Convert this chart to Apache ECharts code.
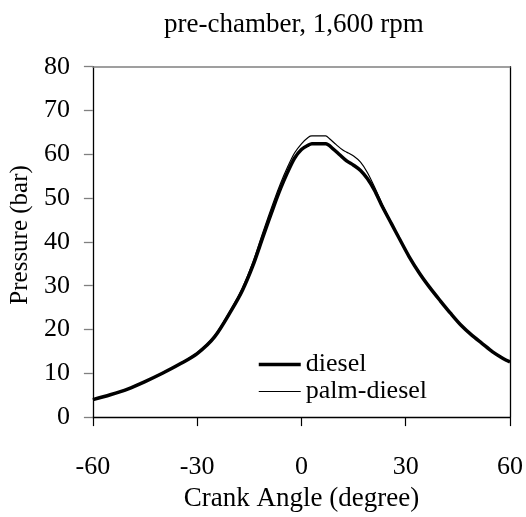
<!DOCTYPE html>
<html>
<head>
<meta charset="utf-8">
<script src="https://cdn.jsdelivr.net/npm/echarts@6/dist/echarts.min.js"></script>
<style>
html,body{margin:0;padding:0;background:#fff;}
#chart{width:526px;height:517px;}
</style>
</head>
<body>
<div id="chart"></div>
<script>
var titleText = 'pre-chamber, 1,600 rpm';
var xTicks = [-60, -30, 0, 30, 60];
var yTicks = [0, 10, 20, 30, 40, 50, 60, 70, 80];

var dieselAngle = [-60,-55,-50,-45,-40,-35,-30,-25,-20,-17,-14,-11,-8,-6,-4,-2,0,2,3,5,7,9,11,13,15,17,19,21,23,26,28,31,34,37,40,43,46,49,52,55,58,60];
var dieselP =     [4.0,5.1,6.4,8.1,10.0,12.1,14.5,18.3,24.6,28.9,34.5,41.3,48.0,52.2,55.9,59.1,61.1,62.1,62.4,62.4,62.4,61.3,59.9,58.5,57.5,56.3,54.4,51.8,48.5,44.0,41.0,36.6,32.8,29.5,26.5,23.6,20.9,18.7,16.8,14.9,13.4,12.6];

var palmAngle = [-60,-55,-50,-45,-40,-35,-30,-25,-20,-17,-14,-11,-8,-6,-4,-2,0,2,3,5,7,8,10,12,13,15,17,19,21,23,26,28,31,34,37,40,43,46,49,52,55,58,60];
var palmP =     [4.0,5.1,6.4,8.1,10.1,12.2,14.7,18.6,25.0,29.5,35.3,42.4,49.2,53.4,57.1,60.3,62.4,63.9,64.2,64.2,64.2,63.6,62.2,60.9,60.5,59.6,58.2,55.8,52.6,49.0,44.2,41.1,36.7,32.8,29.5,26.5,23.6,20.9,18.7,16.8,14.9,13.4,12.6];

function pairs(xs, ys) { return xs.map(function (x, i) { return [x, ys[i]]; }); }

var FONT = 'Liberation Serif';
var chart = echarts.init(document.getElementById('chart'), null, {renderer: 'canvas'});
chart.setOption({
  animation: false,
  backgroundColor: '#fff',
  title: {
    text: titleText,
    left: 159, top: 6,
    textStyle: {fontFamily: FONT, fontSize: 27, fontWeight: 'normal', color: '#000'}
  },
  legend: {
    orient: 'vertical',
    left: 252, top: 346,
    itemWidth: 42, itemHeight: 14, itemGap: 0,
    data: ['diesel', 'palm-diesel'],
    itemStyle: {opacity: 0},
    lineStyle: {width: 'inherit', color: 'inherit', opacity: 1},
    textStyle: {fontFamily: FONT, fontSize: 26, color: '#000', lineHeight: 27}
  },
  grid: {left: 91.7, right: 16, top: 66.7, bottom: 96.3, containLabel: false},
  xAxis: [{
    type: 'value', min: -60, max: 60, interval: 30,
    position: 'bottom',
    name: 'Crank Angle (degree)', nameLocation: 'middle', nameGap: 66,
    nameTextStyle: {fontFamily: FONT, fontSize: 27, color: '#000'},
    axisLine: {show: true, onZero: false, lineStyle: {color: '#000', width: 1.3}},
    axisTick: {show: true, length: 9, lineStyle: {color: '#000', width: 1.2}},
    axisLabel: {margin: 37, fontFamily: FONT, fontSize: 26, color: '#000',
      formatter: function (v) { return xTicks.indexOf(v) >= 0 ? String(v) : ''; }},
    splitLine: {show: false}
  }, {
    type: 'value', min: -60, max: 60, position: 'top',
    axisLine: {show: true, onZero: false, lineStyle: {color: '#808080', width: 1.5}},
    axisTick: {show: false}, axisLabel: {show: false}, splitLine: {show: false}
  }],
  yAxis: [{
    type: 'value', min: 0, max: 80, interval: 10,
    position: 'left',
    name: 'Pressure (bar)', nameLocation: 'middle', nameGap: 56,
    nameTextStyle: {fontFamily: FONT, fontSize: 25, color: '#000', padding: [0, 0, 0, 14]},
    axisLine: {show: true, onZero: false, lineStyle: {color: '#000', width: 1.3}},
    axisTick: {show: true, length: 9, lineStyle: {color: '#808080', width: 1.3}},
    axisLabel: {margin: 23, fontFamily: FONT, fontSize: 26, color: '#000',
      formatter: function (v) { return yTicks.indexOf(v) >= 0 ? String(v) : ''; }},
    splitLine: {show: false}
  }, {
    type: 'value', min: 0, max: 80, position: 'right',
    axisLine: {show: true, onZero: false, lineStyle: {color: '#000', width: 1.3}},
    axisTick: {show: false}, axisLabel: {show: false}, splitLine: {show: false}
  }],
  series: [{
    name: 'palm-diesel', type: 'line', xAxisIndex: 0, yAxisIndex: 0,
    data: pairs(palmAngle, palmP),
    showSymbol: false, symbol: 'none', smooth: 0.3, z: 2,
    lineStyle: {color: '#000', width: 1.2}, itemStyle: {color: '#000'}
  }, {
    name: 'diesel', type: 'line', xAxisIndex: 0, yAxisIndex: 0,
    data: pairs(dieselAngle, dieselP),
    showSymbol: false, symbol: 'none', smooth: 0.3, z: 3,
    lineStyle: {color: '#000', width: 3.5}, itemStyle: {color: '#000'}
  }]
});
</script>
</body>
</html>
